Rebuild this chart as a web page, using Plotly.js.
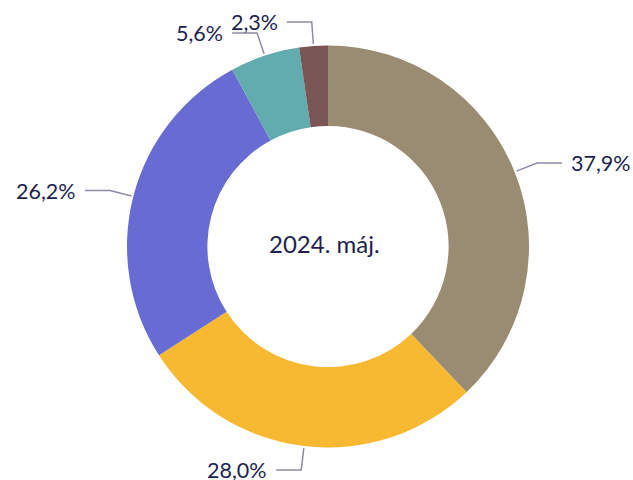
<!DOCTYPE html>
<html>
<head>
<meta charset="utf-8">
<script src="https://cdn.plot.ly/plotly-3.0.1.min.js"></script>
<style>html,body{margin:0;padding:0;background:#fff;}#chart{width:633px;height:480px;}</style>
</head>
<body>
<div id="chart"></div>
<script>
const categories = ["A", "B", "C", "D", "E"];
const values = [37.9, 28.0, 26.2, 5.6, 2.3];
const valueLabels = ["37,9%", "28,0%", "26,2%", "5,6%", "2,3%"];
const colors = ["#9A8C72", "#F8B932", "#676BD2", "#62ABAE", "#7A5555"];
const centerText = "2024. máj.";

const W = 633, H = 480;
const cx = 328, cy = 246.5, R = 201;
const textColor = "#1E1F50";
const lineColor = "#8C8CA3";
const fontFam = "Lato, 'Open Sans', sans-serif";

const total = values.reduce((a, b) => a + b, 0);
const px = x => x / W;
const py = y => 1 - y / H;

const shapes = [];
const annotations = [];
let cum = 0;
values.forEach((v, i) => {
  const mid = (cum + v / 2) / total * 2 * Math.PI;
  cum += v;
  const sx = Math.sin(mid), sy = -Math.cos(mid);
  const x0 = cx + (R + 2) * sx, y0 = cy + (R + 2) * sy;
  const x1 = cx + (R + 24) * sx, y1 = cy + (R + 24) * sy;
  const dir = sx >= 0 ? 1 : -1;
  const x2 = x1 + dir * 25;
  shapes.push({type: "path", xref: "paper", yref: "paper",
    path: `M ${px(x0)} ${py(y0)} L ${px(x1)} ${py(y1)} L ${px(x2)} ${py(y1)}`,
    line: {color: lineColor, width: 1.5}});
  annotations.push({xref: "paper", yref: "paper", x: px(x2 + dir * 7), y: py(y1),
    text: valueLabels[i], showarrow: false,
    xanchor: dir > 0 ? "left" : "right", yanchor: "middle",
    font: {family: fontFam, size: 21.5, color: textColor}});
});
annotations.push({xref: "paper", yref: "paper", x: px(cx - 4), y: py(cy - 3),
  text: centerText, showarrow: false, xanchor: "center", yanchor: "middle",
  font: {family: fontFam, size: 24, color: textColor}});

const trace = {
  type: "pie",
  labels: categories,
  values: values,
  hole: 0.6,
  sort: false,
  direction: "clockwise",
  rotation: 0,
  textinfo: "none",
  hoverinfo: "none",
  marker: {colors: colors, line: {width: 0}},
  domain: {x: [px(cx - R), px(cx + R)], y: [py(cy + R), py(cy - R)]},
  showlegend: false
};

Plotly.newPlot("chart", [trace], {
  width: W, height: H,
  margin: {l: 0, r: 0, t: 0, b: 0},
  paper_bgcolor: "#fff",
  showlegend: false,
  shapes: shapes,
  annotations: annotations
}, {staticPlot: true});
</script>
</body>
</html>
